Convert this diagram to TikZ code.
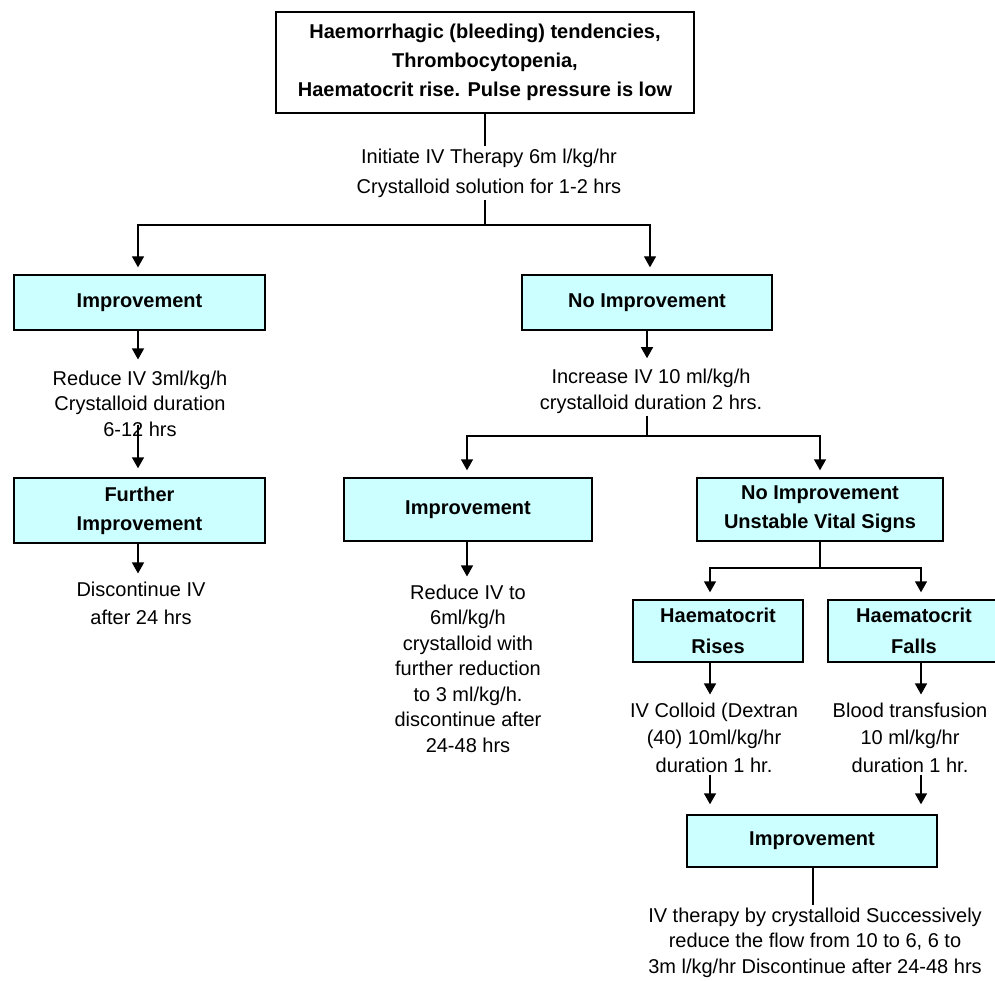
\documentclass[tikz,border=0pt]{standalone}
\usepackage{fontspec}
\setmainfont{Liberation Sans}
\usetikzlibrary{arrows.meta}
\definecolor{cyanbg}{HTML}{CCFFFF}
\begin{document}
\begin{tikzpicture}[x=1pt,y=-1pt,
  bx/.style={draw=black, line width=1.4pt, fill=cyanbg, inner sep=0pt, align=center,
     font=\fontsize{20}{29}\selectfont\bfseries},
  txt/.style={align=center, inner sep=2pt, font=\fontsize{20}{25.5}\selectfont},
  ln/.style={line width=1.4pt},
  arr/.style={ln, -{Triangle[width=12pt,length=11pt]}, shorten >=7pt}]
\useasboundingbox (0,0) rectangle (995,981);
% boxes
\node[bx, fill=white, minimum width=418pt, minimum height=101pt] (top) at (485,62.5)
  {Haemorrhagic (bleeding) tendencies,\\Thrombocytopenia,\\Haematocrit rise. Pulse pressure is low};
\node[bx, minimum width=251pt, minimum height=55pt] (imp1) at (139.5,302.5) {Improvement};
\node[bx, minimum width=250pt, minimum height=55pt] (noimp) at (647,302.5) {No Improvement};
\node[bx, minimum width=251pt, minimum height=65pt] (fimp) at (139.5,510.5) {Further\\Improvement};
\node[bx, minimum width=248pt, minimum height=63pt] (imp2) at (468,509.5) {Improvement};
\node[bx, minimum width=246pt, minimum height=63pt] (noimp2) at (820,509.5) {No Improvement\\Unstable Vital Signs};
\node[bx, minimum width=170pt, minimum height=62pt, font=\fontsize{20}{31}\selectfont\bfseries] (hrise) at (718,631) {Haematocrit\\Rises};
\node[bx, minimum width=172pt, minimum height=62pt, font=\fontsize{20}{31}\selectfont\bfseries] (hfall) at (914,631) {Haematocrit\\Falls};
\node[bx, minimum width=250pt, minimum height=52pt] (imp3) at (812,841) {Improvement};
% texts
\node[txt, font=\fontsize{20}{30}\selectfont] (t1) at (489,173) {Initiate IV Therapy 6m l/kg/hr\\Crystalloid solution for 1-2 hrs};
\node[txt] (t2) at (140,403.5) {Reduce IV 3ml/kg/h\\Crystalloid duration\\6-12 hrs};
\node[txt, font=\fontsize{20}{28}\selectfont] (t3) at (141,603) {Discontinue IV\\after 24 hrs};
\node[txt] (t4) at (651,391.5) {Increase IV 10 ml/kg/h\\crystalloid duration 2 hrs.};
\node[txt] (t5) at (468,668.5) {Reduce IV to\\6ml/kg/h\\crystalloid with\\further reduction\\to 3 ml/kg/h.\\discontinue after\\24-48 hrs};
\node[txt, font=\fontsize{20}{27.5}\selectfont] (t6) at (714,737.5) {IV Colloid (Dextran\\(40) 10ml/kg/hr\\duration 1 hr.};
\node[txt, font=\fontsize{20}{27.5}\selectfont] (t7) at (910,737.5) {Blood transfusion\\10 ml/kg/hr\\duration 1 hr.};
\node[txt] (t8) at (815,942.5) {IV therapy by crystalloid Successively\\reduce the flow from 10 to 6, 6 to\\3m l/kg/hr Discontinue after 24-48 hrs};
% junctions
\coordinate (j1) at (485,225);
\coordinate (j2) at (647,436);
\coordinate (j3) at (820,568);
% connectors
\draw[ln] (top.south) -- (top.south |- t1.north);
\draw[ln] (top.south |- t1.south) -- (j1);
\draw[arr] (j1) -| ([xshift=-1.5pt]imp1.north);
\draw[arr] (j1) -| ([xshift=3pt]noimp.north);
\draw[arr, shorten >=9pt] ([xshift=-1.5pt]imp1.south) -- ([xshift=-1.5pt]imp1.south |- t2.north);
\draw[arr, shorten >=9pt] ([xshift=-1.5pt,yshift=14pt]fimp.north |- t2.south) -- ([xshift=-1.5pt]fimp.north);
\draw[arr, shorten >=6pt] ([xshift=-1.5pt]fimp.south) -- ([xshift=-1.5pt]fimp.south |- t3.north);
\draw[arr, shorten >=9pt] (noimp.south) -- (noimp.south |- t4.north);
\draw[ln] (noimp.south |- t4.south) -- (j2);
\draw[arr] (j2) -| ([xshift=-1pt]imp2.north);
\draw[arr] (j2) -| (noimp2.north);
\draw[arr, shorten >=6pt] ([xshift=-1pt]imp2.south) -- ([xshift=-1pt]imp2.south |- t5.north);
\draw[ln] (noimp2.south) -- (j3);
\draw[arr] (j3) -| ([xshift=-8pt]hrise.north);
\draw[arr] (j3) -| ([xshift=7pt]hfall.north);
\draw[arr, shorten >=6pt] ([xshift=-8pt]hrise.south) -- ([xshift=-8pt]hrise.south |- t6.north);
\draw[arr, shorten >=6pt] ([xshift=7pt]hfall.south) -- ([xshift=7pt]hfall.south |- t7.north);
\draw[arr, shorten >=10pt] ([xshift=-4pt]t6.south) -- ([xshift=-4pt]t6.south |- imp3.north);
\draw[arr, shorten >=10pt] ([xshift=11pt]t7.south) -- ([xshift=11pt]t7.south |- imp3.north);
\draw[ln] ([xshift=1pt]imp3.south) -- ([xshift=1pt]imp3.south |- t8.north);
\end{tikzpicture}
\end{document}
